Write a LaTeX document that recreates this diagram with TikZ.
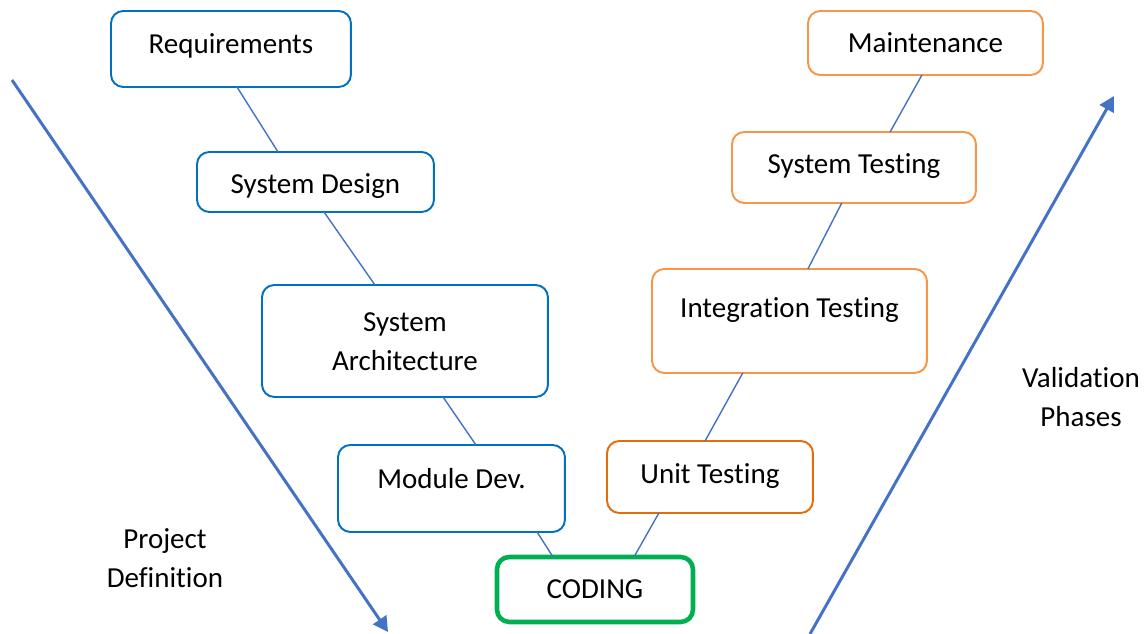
\documentclass[tikz,border=0pt]{standalone}
\usepackage{fontspec}
\setmainfont{Carlito}[Ligatures=NoCommon]
\usetikzlibrary{arrows.meta, positioning, calc}
\definecolor{defblue}{RGB}{0,112,192}
\definecolor{lineblue}{RGB}{68,114,196}
\definecolor{testorange}{RGB}{247,150,70}
\definecolor{unitorange}{RGB}{228,108,10}
\definecolor{codegreen}{RGB}{0,176,80}

\begin{document}
\begin{tikzpicture}[x=0.02cm, y=-0.02cm,
	box/.style={draw, rounded corners=7pt, line width=1.1pt, fill=white,
		inner sep=0pt, outer sep=0pt, anchor=north west},
	def box/.style={box, draw=defblue},
	test box/.style={box, draw=testorange},
	code box/.style={box, draw=codegreen, line width=2.6pt},
	phase/.style={font=\fontsize{16.5}{22.7}\selectfont, inner sep=0pt, anchor=base, align=center},
	link/.style={draw=lineblue, line width=0.8pt},
	flow/.style={draw=lineblue, line width=1.7pt, -{Triangle[length=8.5pt,width=9pt]}}]
	
	\useasboundingbox (0,0) rectangle (1147,634);
	
	% left branch
	\node[def box, minimum width=4.8cm, minimum height=1.52cm] (req) at (111,11) {};
	\node[def box, minimum width=4.74cm, minimum height=1.2cm] (sd) at (197,152) {};
	\node[def box, minimum width=5.72cm, minimum height=2.24cm] (arch) at (262,285) {};
	\node[def box, minimum width=4.54cm, minimum height=1.74cm] (mod) at (338,445) {};
	
	% bottom
	\node[code box, minimum width=3.92cm, minimum height=1.3cm] (code) at (497,557) {};
	
	% right branch
	\node[test box, draw=unitorange, minimum width=4.12cm, minimum height=1.44cm] (unit) at (607,441) {};
	\node[test box, minimum width=5.5cm, minimum height=2.08cm] (integ) at (652,269) {};
	\node[test box, minimum width=4.88cm, minimum height=1.42cm] (systest) at (732,132) {};
	\node[test box, minimum width=4.7cm, minimum height=1.28cm] (maint) at (808,11) {};
	
	% texts (base = last line)
	\node[phase] (reqtxt) at ($(req.north)+(0,43)$) {Requirements};
	\node[phase] (sdtxt) at ($(sd.north)+(0,42)$) {System Design};
	\node[phase] (archtxt) at ($(arch.north)+(0,86)$) {System\\Architecture};
	\node[phase] (modtxt) at ($(mod.north)+(0,44)$) {Module Dev.};
	\node[phase] (codetxt) at ($(code.north)+(0,42)$) {CODING};
	\node[phase] (unittxt) at ($(unit.north)+(0,43)$) {Unit Testing};
	\node[phase] (integtxt) at ($(integ.north)+(0,49)$) {Integration Testing};
	\node[phase] (systesttxt) at ($(systest.north)+(0,42)$) {System Testing};
	\node[phase] (mainttxt) at ($(maint.north)+(0,42)$) {Maintenance};
	
	\node[phase] (pd) at (165,588) {Project\\Definition};
	\node[phase] (vp) at (1081,427) {Validation\\Phases};
	
	% links
	\path[link] ($(req.south west)!0.525!(req.south east)$) -- ($(sd.north west)!0.342!(sd.north east)$);
	\path[link] ($(sd.south west)!0.536!(sd.south east)$) -- ($(arch.north west)!0.395!(arch.north east)$);
	\path[link] ($(arch.south west)!0.633!(arch.south east)$) -- ($(mod.north west)!0.608!(mod.north east)$);
	\path[link] ($(mod.south west)!0.877!(mod.south east)$) -- ($(code.north west)!0.286!(code.north east)$);
	\path[link] ($(code.north west)!0.699!(code.north east)$) -- ($(unit.south west)!0.252!(unit.south east)$);
	\path[link] ($(unit.north west)!0.476!(unit.north east)$) -- ($(integ.south west)!0.33!(integ.south east)$);
	\path[link] ($(integ.north west)!0.567!(integ.north east)$) -- ($(systest.south west)!0.45!(systest.south east)$);
	\path[link] ($(systest.north west)!0.648!(systest.north east)$) -- ($(maint.south west)!0.485!(maint.south east)$);
	
	% phase arrows
	\coordinate (pdstart) at (12,80);
	\coordinate (pdend) at (388,632);
	\coordinate (vpstart) at (810,634);
	\coordinate (vpend) at (1114,96);
	\path[flow] (pdstart) -- (pdend);
	\path[flow] (vpstart) -- (vpend);
\end{tikzpicture}
\end{document}
